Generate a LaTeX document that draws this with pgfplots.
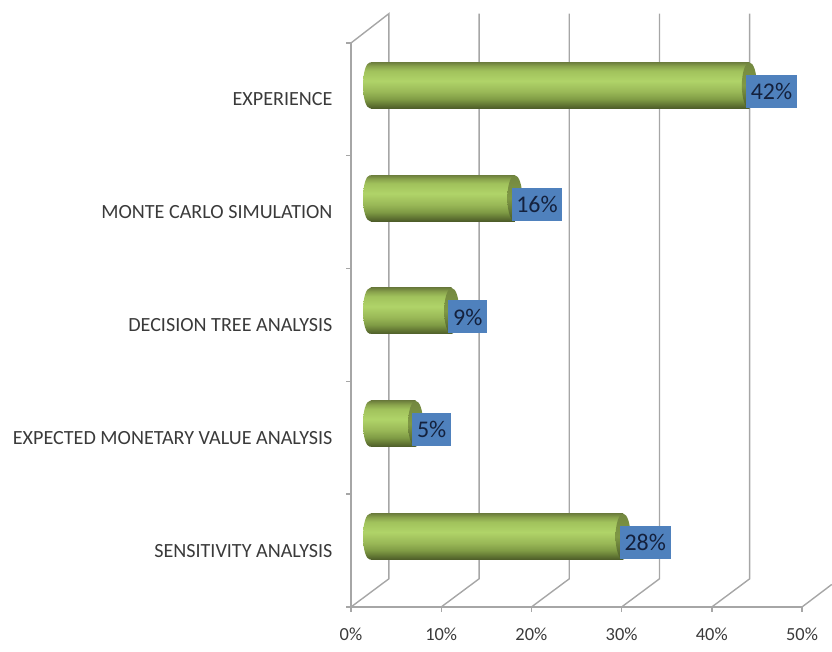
\documentclass[border=0pt]{standalone}
\usepackage{fontspec}
\setmainfont{Carlito}
\usepackage{pgfplots}
\usepackage{pgfplotstable}
\pgfplotsset{compat=1.18}

\definecolor{wall}{HTML}{A6A6A6}
\definecolor{boxblue}{HTML}{4F81BD}
\definecolor{labeltext}{HTML}{3A3A3A}
\definecolor{valuetext}{HTML}{14213D}

% body of the cylinder, bottom to top (middle 50bp is what gets used)
\pgfdeclareverticalshading{cylbody}{100bp}{
  rgb(0bp)=(.30,.36,.16);
  rgb(25bp)=(.30,.36,.16);
  rgb(29bp)=(.38,.46,.20);
  rgb(35bp)=(.50,.61,.27);
  rgb(43bp)=(.60,.72,.34);
  rgb(55bp)=(.69,.83,.41);
  rgb(66bp)=(.63,.76,.36);
  rgb(71bp)=(.54,.64,.30);
  rgb(75bp)=(.43,.50,.24);
  rgb(100bp)=(.43,.50,.24)}
\pgfdeclareverticalshading{cylcap}{100bp}{
  rgb(0bp)=(.29,.35,.16);
  rgb(25bp)=(.29,.35,.16);
  rgb(50bp)=(.50,.60,.27);
  rgb(75bp)=(.45,.53,.25);
  rgb(100bp)=(.45,.53,.25)}

\pgfdeclareplotmark{capstart}{%
  \pgfpathellipse{\pgfpointorigin}{\pgfqpoint{7bp}{0bp}}{\pgfqpoint{0bp}{23bp}}%
  \pgfshadepath{cylbody}{0}\pgfusepath{discard}}
\pgfdeclareplotmark{capend}{%
  \pgfpathellipse{\pgfpointorigin}{\pgfqpoint{7.5bp}{0bp}}{\pgfqpoint{0bp}{23bp}}%
  \pgfshadepath{cylcap}{0}\pgfusepath{discard}}

% value in percent, position on the y axis
\pgfplotstableread{
val pos
28 0.5
5 1.5
9 2.5
16 3.5
42 4.5
}\methods

\begin{document}
\begin{tikzpicture}[x=1bp,y=1bp]
\path[use as bounding box] (0,0) rectangle (832,652);
\begin{axis}[
    at={(351bp,45bp)}, anchor=south west,
    scale only axis, width=451bp, height=564bp,
    xmin=0, xmax=50, ymin=0, ymax=5,
    clip=false,
    axis x line=bottom, axis y line=left,
    axis line style={-, wall, line width=1.4pt},
    tick style={wall, line width=1.4pt},
    tick align=outside,
    major tick length=5bp,
    xtick={0,10,20,30,40,50},
    xticklabel={\pgfmathprintnumber{\tick}\%},
    x tick label style={font=\fontsize{18.5}{20}\selectfont, text=labeltext, yshift=-12bp},
    /pgf/number format/assume math mode=true,
    ytick={0,1,2,3,4,5},
    yticklabels={},
    extra y ticks={0.5,1.5,2.5,3.5,4.5},
    extra y tick labels={SENSITIVITY ANALYSIS,EXPECTED MONETARY VALUE ANALYSIS,DECISION TREE ANALYSIS,MONTE CARLO SIMULATION,EXPERIENCE},
    extra y tick style={major tick length=0pt,
        y tick label style={font=\fontsize{20.2}{22}\selectfont, text=labeltext, anchor=east, xshift=-15bp}},
    cylinder/.style={xbar, bar width=46bp, draw=none, shade, shading=cylbody, xshift=19.5bp, yshift=14bp},
]
% floor and back wall
\addplot[wall, line width=1.4pt] coordinates {(0,5) (4.2,5.26) (4.2,0.25) (0,0)};
\addplot[wall, line width=1.4pt] coordinates {(10,0) (14.2,0.25) (14.2,5.26)};
\addplot[wall, line width=1.4pt] coordinates {(20,0) (24.2,0.25) (24.2,5.26)};
\addplot[wall, line width=1.4pt] coordinates {(30,0) (34.2,0.25) (34.2,5.26)};
\addplot[wall, line width=1.4pt] coordinates {(40,0) (44.2,0.25) (44.2,5.26)};
\addplot[wall, line width=1.4pt] coordinates {(50,0) (53.3,0.2)};
% cylinders, one plot each so that each gets its own shading
\addplot[only marks, mark=capstart, xshift=19bp, yshift=14bp] table[x expr=0, y=pos] {\methods};
\addplot[cylinder] coordinates {(28,0.5)};
\addplot[cylinder] coordinates {(5,1.5)};
\addplot[cylinder] coordinates {(9,2.5)};
\addplot[cylinder] coordinates {(16,3.5)};
\addplot[cylinder] coordinates {(42,4.5)};
\addplot[only marks, mark=capend, xshift=19.5bp, yshift=14bp,
    point meta=x,
    nodes near coords={\pgfmathprintnumber{\pgfplotspointmeta}\%},
    nodes near coords style={anchor=west, fill=boxblue, text=valuetext,
        font=\fontsize{24}{25}\selectfont, inner xsep=4.8bp, inner ysep=0pt,
        minimum height=33bp, xshift=-3.5bp, yshift=-6bp,
        /pgf/number format/assume math mode=true},
] table[x=val, y=pos] {\methods};
\end{axis}
\end{tikzpicture}
\end{document}
